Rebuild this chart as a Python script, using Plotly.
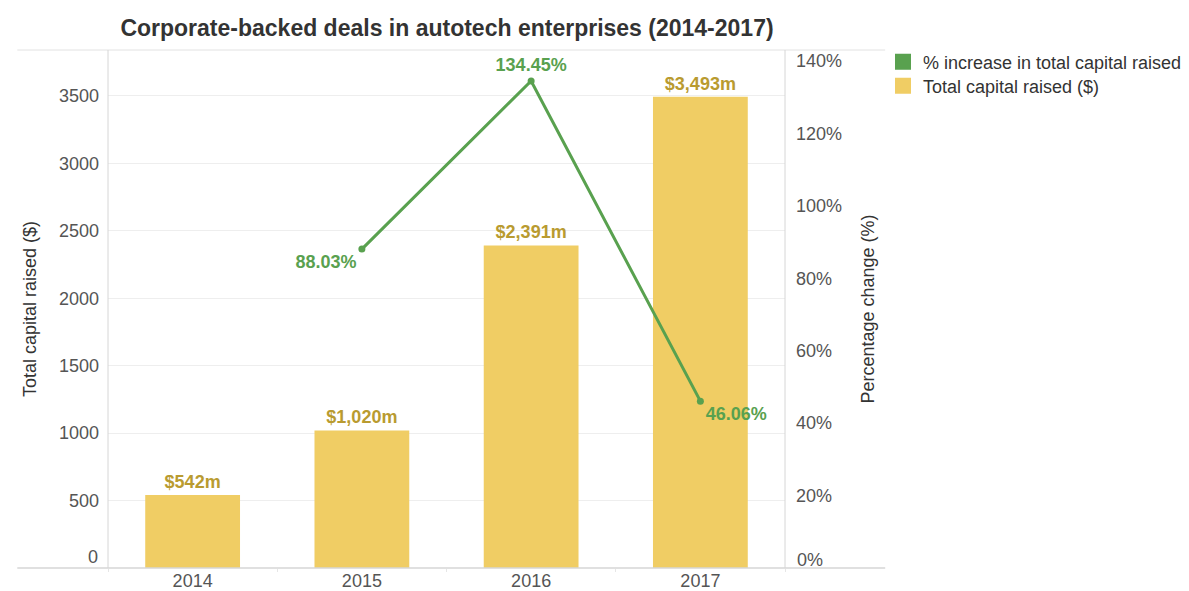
import plotly.graph_objects as go

# Data
years = ["2014", "2015", "2016", "2017"]
capital_raised = [542, 1020, 2391, 3493]          # $m
pct_years = ["2015", "2016", "2017"]
pct_increase = [88.03, 134.45, 46.06]             # % change year on year
capital_labels = ["$542m", "$1,020m", "$2,391m", "$3,493m"]
pct_labels = ["88.03%", "134.45%", "46.06%"]
left_ticks = [500, 1000, 1500, 2000, 2500, 3000, 3500]
right_ticks = [20, 40, 60, 80, 100, 120, 140]
right_tick_text = [f"{v}%" for v in right_ticks]
series_names = ["% increase in total capital raised", "Total capital raised ($)"]

BAR = "#F0CD64"
BAR_TEXT = "#B99B30"
GREEN = "#59A14F"
FONT = "Liberation Sans, Arial, sans-serif"
TICK = dict(size=18, color="#555555", family=FONT)

fig = go.Figure()

fig.add_trace(go.Bar(
    x=years, y=capital_raised, name=series_names[1],
    marker=dict(color=BAR, line=dict(width=0)),
    width=0.56,
    text=capital_labels, textposition="outside", cliponaxis=False,
    textfont=dict(color=BAR_TEXT, size=18, family=FONT, weight="bold"),
    showlegend=False, hoverinfo="skip",
))

fig.add_trace(go.Scatter(
    x=pct_years, y=pct_increase, yaxis="y2", mode="lines+markers+text",
    name=series_names[0],
    line=dict(color=GREEN, width=3), marker=dict(color=GREEN, size=7),
    text=pct_labels, textposition=["bottom left", "top center", "bottom right"],
    textfont=dict(color=GREEN, size=18, family=FONT, weight="bold"),
    showlegend=False, cliponaxis=False, hoverinfo="skip",
))

# Square legend swatches, one legend box per row
for name, col, lg in [(series_names[0], GREEN, "legend"),
                      (series_names[1], BAR, "legend2")]:
    fig.add_trace(go.Scatter(
        x=[None], y=[None], mode="markers", name=name, legend=lg,
        marker=dict(symbol="square", color=col, size=16), hoverinfo="skip",
    ))

line_col = "#D6D6D6"
shapes = [
    dict(type="line", xref="paper", yref="paper", x0=-0.134, x1=1.148, y0=1, y1=1,
         line=dict(color="#E2E2E2", width=1)),
    dict(type="line", xref="paper", yref="paper", x0=-0.134, x1=1.148, y0=0, y1=0,
         line=dict(color=line_col, width=1.5)),
    dict(type="line", xref="paper", yref="paper", x0=0, x1=0, y0=0, y1=1,
         line=dict(color=line_col, width=1)),
    dict(type="line", xref="paper", yref="paper", x0=1, x1=1, y0=0, y1=1,
         line=dict(color=line_col, width=1)),
]

# Zero labels sit just above the baseline
annotations = [
    dict(text="0", xref="paper", yref="y", x=0, y=0, xanchor="right", yanchor="middle",
         xshift=-8, yshift=11, showarrow=False, font=TICK),
    dict(text="0%", xref="paper", yref="y2", x=1, y=0, xanchor="left", yanchor="middle",
         xshift=10, yshift=8, showarrow=False, font=TICK),
]

legend_common = dict(xref="container", yref="container", xanchor="left", yanchor="middle",
                     font=dict(size=18, color="#333333", family=FONT), itemwidth=30,
                     itemsizing="trace", bgcolor="rgba(0,0,0,0)")

fig.update_layout(
    width=1189, height=591,
    margin=dict(l=108, r=404, t=50, b=23, autoexpand=False),
    paper_bgcolor="white", plot_bgcolor="white",
    font=dict(family=FONT, size=18, color="#555555"),
    title=dict(text="<b>Corporate-backed deals in autotech enterprises (2014-2017)</b>",
               x=447 / 1189, xanchor="center", y=1 - 28 / 591, yanchor="middle",
               font=dict(size=23, color="#333333", family=FONT)),
    barmode="overlay",
    showlegend=True,
    legend=dict(x=883 / 1189, y=1 - 62 / 591, **legend_common),
    legend2=dict(x=883 / 1189, y=1 - 86 / 591, **legend_common),
    shapes=shapes,
    annotations=annotations,
    xaxis=dict(type="category", categoryorder="array", categoryarray=years,
               showgrid=False, showline=False, zeroline=False, automargin=False,
               tickson="boundaries", ticks="outside", ticklen=3, tickcolor="#E6E6E6",
               tickfont=TICK, ticklabelstandoff=0),
    yaxis=dict(range=[0, 3840], tickvals=left_ticks, showgrid=True, automargin=False,
               gridcolor="#EEEEEE", gridwidth=1, zeroline=False, showline=False,
               ticks="", tickfont=TICK, ticklabelstandoff=8,
               title=dict(text="Total capital raised ($)", standoff=17,
                          font=dict(size=18, color="#333333", family=FONT))),
    yaxis2=dict(range=[0, 143], overlaying="y", side="right", tickvals=right_ticks,
                ticktext=right_tick_text, showgrid=False, zeroline=False, showline=False,
                automargin=False, ticks="", tickfont=TICK, ticklabelstandoff=10,
                title=dict(text="Percentage change (%)", standoff=20,
                           font=dict(size=18, color="#333333", family=FONT))),
)

fig.write_html("out.html")
